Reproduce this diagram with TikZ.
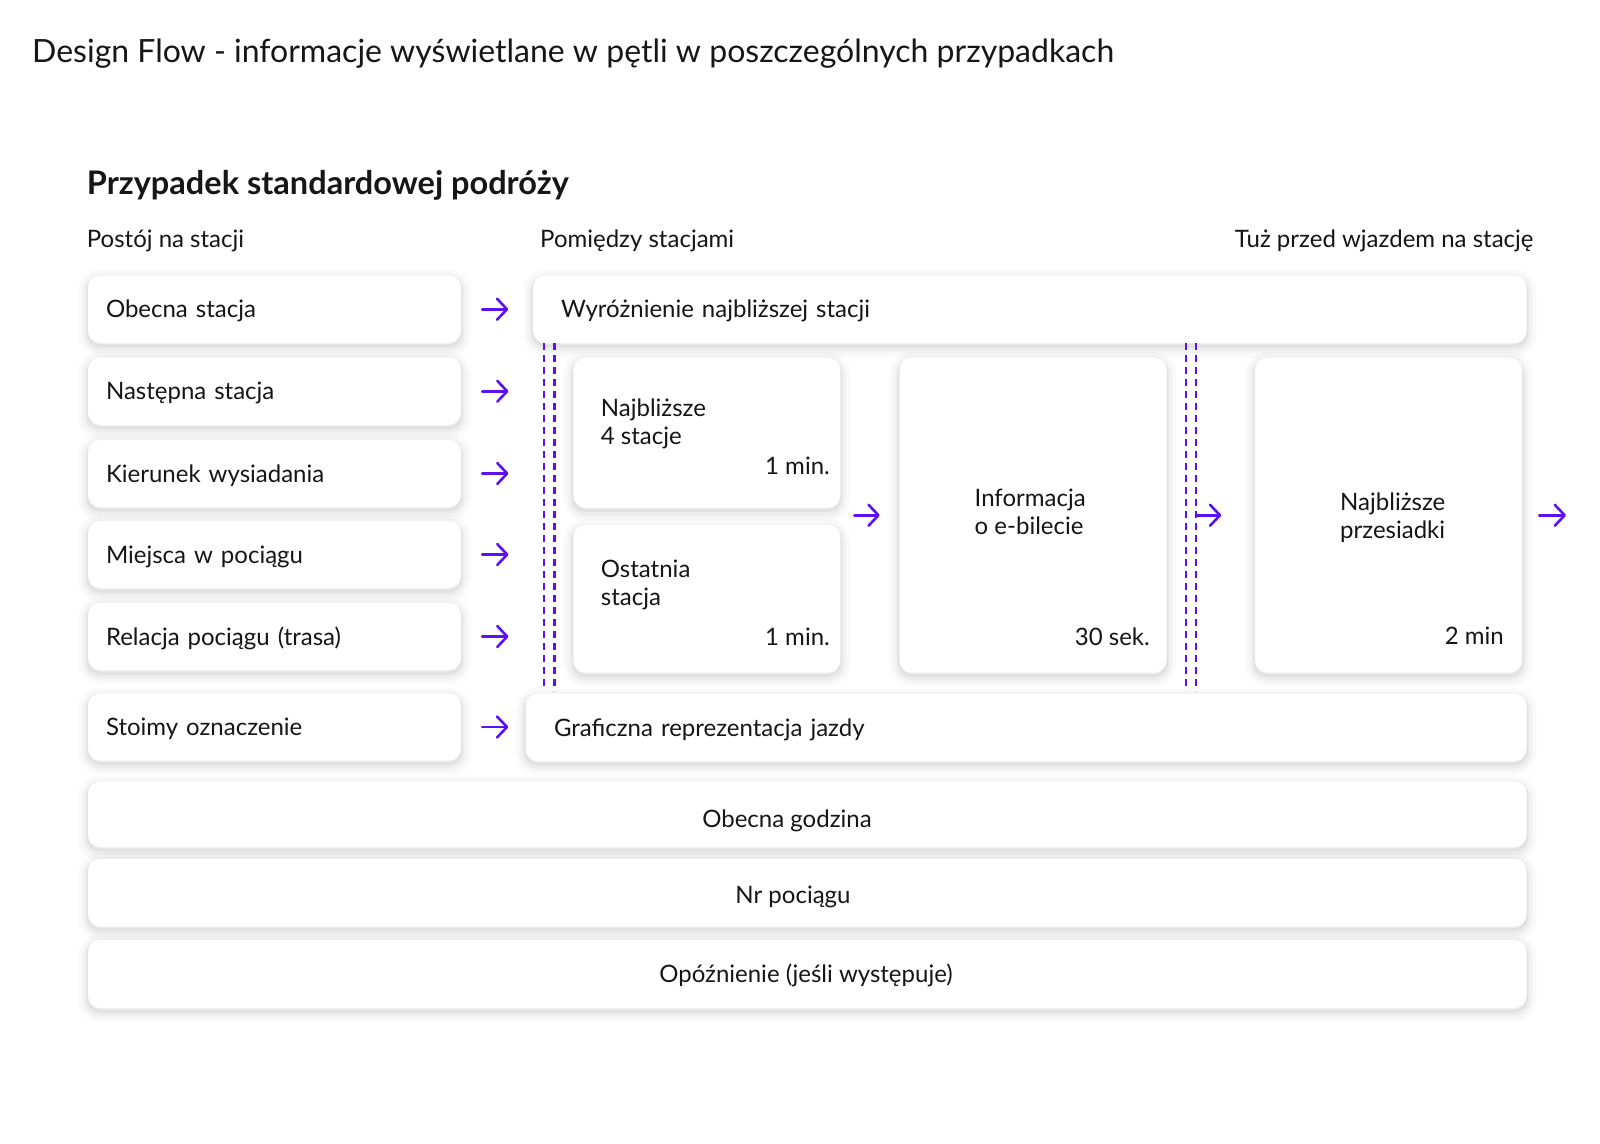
\documentclass[tikz,border=0pt]{standalone}
\usepackage{fontspec}
\setmainfont{Lato}
\usepackage{xcolor}
\usetikzlibrary{arrows.meta,positioning}

\definecolor{flowviolet}{HTML}{5B10F5}
\definecolor{ink}{HTML}{161616}

\newcommand\flowbody{\fontsize{24}{28}\selectfont}
\newcommand\flowtitle{\fontsize{32}{37}\selectfont}
\newcommand\flowhead{\fontsize{32.5}{38}\selectfont\bfseries}
\newcommand\flowlabel{\fontsize{24}{29}\selectfont}

\tikzset{
  softshadow/.style={
    preaction={draw=black, draw opacity=0.02, line width=20pt, transform canvas={yshift=-4pt}},
    preaction={draw=black, draw opacity=0.025, line width=13pt, transform canvas={yshift=-4pt}},
    preaction={draw=black, draw opacity=0.03, line width=7pt, transform canvas={yshift=-4pt}},
    preaction={draw=black, draw opacity=0.04, line width=3pt, transform canvas={yshift=-3pt}}},
  card/.style={fill=white, rounded corners=12pt, inner sep=0pt, text=ink, softshadow},
  stopcard/.style={card, minimum width=373pt, minimum height=67pt, text width=337pt, align=left,
    text height=17pt, text depth=0pt, font=\flowbody},
  bandcard/.style={card, minimum height=67pt, text height=17pt, text depth=0pt, font=\flowbody},
  tilecard/.style={card, minimum width=267pt},
  cardtext/.style={text=ink, font=\flowbody, inner sep=0pt},
  flowarrow/.style={flowviolet, line width=2.6pt, line cap=round, line join=round,
    -{Straight Barb[length=10pt,width=21pt,round]}},
  zone/.style={flowviolet, line width=2.2pt, dash pattern=on 7pt off 5pt},
}

\begin{document}
\begin{tikzpicture}[x=1pt, y=-1pt]
  \path[use as bounding box, fill=white] (0,0) rectangle (1600,1143);
  % headings
  \node[cardtext, font=\flowtitle, anchor=base west] (title) at (32,62.8) {Design Flow - informacje wyświetlane w pętli w poszczególnych przypadkach};
  \node[cardtext, font=\flowhead, anchor=base west] (case) at (86.7,194.3) {Przypadek standardowej podróży};
  \node[cardtext, font=\flowlabel, anchor=base west] (postoj) at (86.7,247.7) {Postój na stacji};
  \node[cardtext, font=\flowlabel, anchor=base west] (pomiedzy) at (540,247.7) {Pomiędzy stacjami};
  \node[cardtext, font=\flowlabel, anchor=base east] (przedwjazdem) at (1533.7,247.7) {Tuż przed wjazdem na stację};

  % stop column
  \foreach \name/\yc/\txt in {obecna/309.25/Obecna stacja, nastepna/391.25/Następna stacja,
      kierunek/473.5/Kierunek wysiadania, miejsca/554.5/Miejsca w pociągu,
      relacja/636.5/Relacja pociągu (trasa), stoimy/727/Stoimy oznaczenie}
    \node[stopcard] (\name) at (274.5,\yc) {\txt};

  % between stations
  \node[bandcard, minimum width=993.5pt, text width=937.5pt, align=left] (wyroznienie) at (1029.75,309.25) {Wyróżnienie najbliższej stacji};
  \node[bandcard, minimum width=1001pt, text width=944pt, align=left] (graficzna) at (1026,727.5) {Graficzna reprezentacja jazdy};

  \node[tilecard, minimum height=149.5pt] (najb4) at (706.75,432.75) {};
  \node[tilecard, minimum height=147.5pt] (ostatnia) at (706.75,598.75) {};
  \node[tilecard, minimum height=314.5pt] (ebilet) at (1033,515.25) {};
  \node[tilecard, minimum height=314.5pt] (przesiadki) at (1388.5,515.25) {};

  \node[cardtext, anchor=base west, align=left] at (600.7,444.5) {Najbliższe\\4 stacje};
  \node[cardtext, anchor=base east] at (830,474) {1 min.};
  \node[cardtext, anchor=base west, align=left] at (600.7,605.5) {Ostatnia\\stacja};
  \node[cardtext, anchor=base east] at (830,645) {1 min.};
  \node[cardtext, anchor=base west, align=left] at (974.5,534) {Informacja\\o e-bilecie};
  \node[cardtext, anchor=base east] at (1150,645) {30 sek.};
  \node[cardtext, anchor=base west, align=left] at (1340,538) {Najbliższe\\przesiadki};
  \node[cardtext, anchor=base east] at (1504,644) {2 min};

  \draw[zone] (544,343) -- (544,691);
  \draw[zone] (554.5,343) -- (554.5,691);
  \draw[zone] (1186,343) -- (1186,691);
  \draw[zone] (1196,343) -- (1196,691);
  \coordinate (zoneA) at (544,343);
  \coordinate (zoneD) at (1196,343);

  % common rows
  \node[bandcard, minimum width=1438.5pt, minimum height=65.5pt] (godzina) at (807.25,814.25) {};
  \node[bandcard, minimum width=1438.5pt, minimum height=67.5pt] (nrpociagu) at (807.25,892.75) {};
  \node[bandcard, minimum width=1438.5pt, minimum height=68pt] (opoznienie) at (807.25,974) {};
  \node[cardtext, anchor=base] at (787,827) {Obecna godzina};
  \node[cardtext, anchor=base] at (793,903) {Nr pociągu};
  \node[cardtext, anchor=base] at (806,982) {Opóźnienie (jeśli występuje)};

  % arrows
  \draw[flowarrow] ([xshift=21pt]obecna.east) -- ([xshift=-24.5pt]wyroznienie.west);
  \foreach \name in {nastepna,kierunek,miejsca,relacja}
    \draw[flowarrow] ([xshift=21pt]\name.east) -- ([xshift=-35.5pt]\name.east -| zoneA);
  \draw[flowarrow] ([xshift=21pt]stoimy.east) -- ([xshift=-17pt]stoimy.east -| graficzna.west);
  \draw[flowarrow] ([xshift=14pt]najb4.east |- ebilet.west) -- ([xshift=-19.5pt]ebilet.west);
  \draw[flowarrow] (zoneD |- przesiadki.west) -- ([xshift=-33.5pt]przesiadki.west);
  \coordinate (exit) at (1566,515.25);
  \draw[flowarrow] ([xshift=17pt]przesiadki.east) -- (exit);
\end{tikzpicture}
\end{document}
